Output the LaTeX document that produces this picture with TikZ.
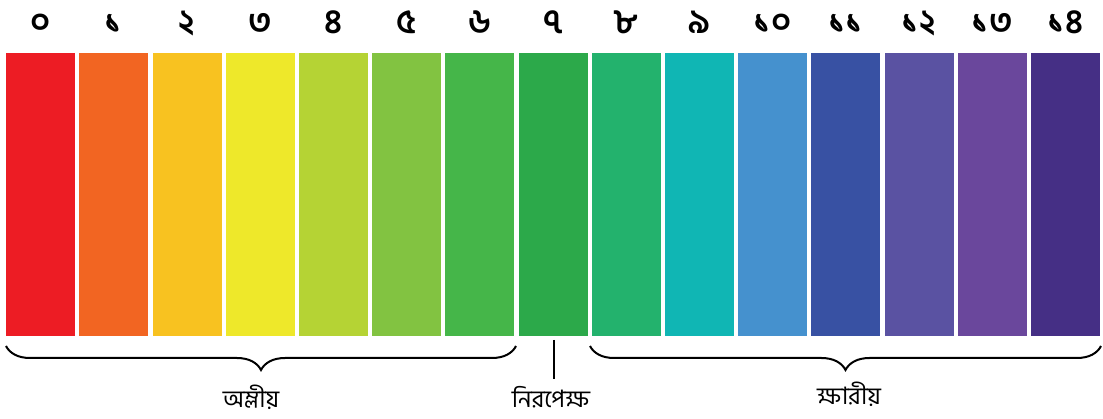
\documentclass[tikz,border=0pt]{standalone}
\usepackage{fontspec}
\newfontfamily\bn[Script=Bengali]{Hind Siliguri}
\usetikzlibrary{decorations.pathreplacing}
\definecolor{c0}{HTML}{ED1C24}
\definecolor{c1}{HTML}{F26522}
\definecolor{c2}{HTML}{F8C220}
\definecolor{c3}{HTML}{EEE82A}
\definecolor{c4}{HTML}{B5D334}
\definecolor{c5}{HTML}{82C341}
\definecolor{c6}{HTML}{45B649}
\definecolor{c7}{HTML}{2CA94A}
\definecolor{c8}{HTML}{23B26D}
\definecolor{c9}{HTML}{10B6B4}
\definecolor{c10}{HTML}{4591CE}
\definecolor{c11}{HTML}{3851A3}
\definecolor{c12}{HTML}{5A52A2}
\definecolor{c13}{HTML}{6A479C}
\definecolor{c14}{HTML}{452F85}
\tikzset{
  barbox/.style={fill=#1, draw=none, minimum width=69pt, minimum height=283pt, inner sep=0pt, anchor=north west},
  digit/.style={font=\bn\bfseries\fontsize{34}{34}\selectfont, anchor=base, inner sep=0pt},
  lbl/.style={font=\bn\fontsize{24}{24}\selectfont, anchor=base, inner sep=0pt},
  bracestyle/.style={decorate, decoration={brace, amplitude=24pt}, line width=2pt},
}
\begin{document}
\begin{tikzpicture}[x=1pt,y=-1pt]
\useasboundingbox[fill=white] (0,0) rectangle (1103,419);
\foreach \i/\d in {0/০,1/১,2/২,3/৩,4/৪,5/৫,6/৬,7/৭,8/৮,9/৯,10/১০,11/১১,12/১২,13/১৩,14/১৪}{
  \node[barbox=c\i] (bar\i) at ({6+\i*73.2},53) {};
  \node[digit] (d\i) at ({40.5+\i*73.2},34) {\d};
}
\coordinate (aL) at (6,346);
\coordinate (aR) at (516,346);
\coordinate (bL) at (590,346);
\coordinate (bR) at (1101,346);
\draw[bracestyle] (aR) -- (aL);
\draw[bracestyle] (bR) -- (bL);
\coordinate (nT) at (553.5,340);
\coordinate (nB) at (553.5,379);
\draw[line width=2pt] (nT) -- (nB);
\node[lbl] (acid) at (251,407) {অম্লীয়};
\node[lbl] (neutral) at (551,408) {নিরপেক্ষ};
\node[lbl] (base) at (849,404) {ক্ষারীয়};
\end{tikzpicture}
\end{document}
